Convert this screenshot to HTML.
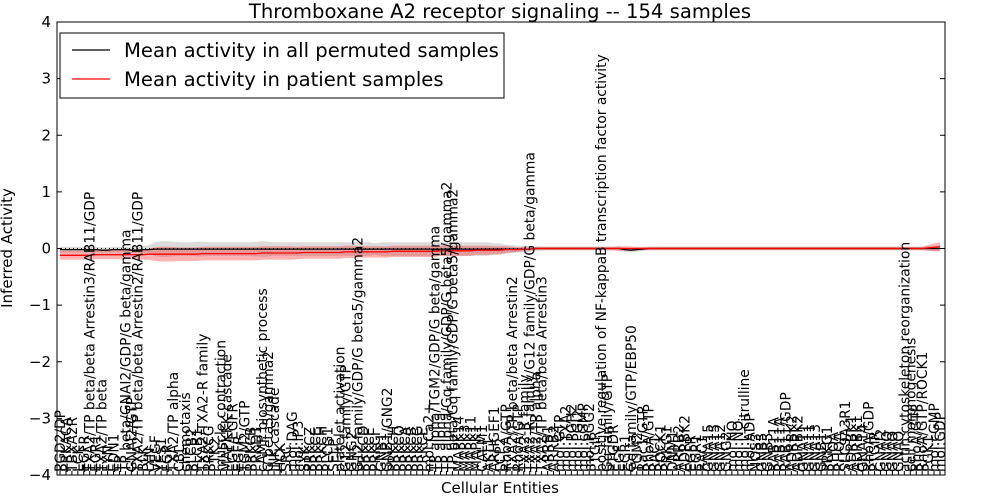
<!DOCTYPE html>
<html><head><meta charset="utf-8"><style>
html,body{margin:0;padding:0;background:#fff;}
svg{display:block;font-family:"DejaVu Sans","Liberation Sans",sans-serif;}
</style></head><body>
<svg id="chart" width="1000" height="500" viewBox="0 0 1000 500" xmlns="http://www.w3.org/2000/svg">
<rect x="0" y="0" width="1000" height="500" fill="#fff"/>
<text x="500" y="18" text-anchor="middle" font-size="19.6">Thromboxane A2 receptor signaling -- 154 samples</text>
<text transform="translate(12,248) rotate(-90)" text-anchor="middle" font-size="15">Inferred Activity</text>
<text x="500" y="493" text-anchor="middle" font-size="15">Cellular Entities</text>
<g id="plot"></g>
<rect x="57" y="22" width="888" height="453" fill="none" stroke="#000" stroke-width="1"/>
<g>
<rect x="60" y="33" width="444" height="65" fill="#fff" stroke="#000" stroke-width="1"/>
<line x1="72" y1="50" x2="110" y2="50" stroke="#000" stroke-width="1.2"/>
<text x="124" y="57" font-size="19.6">Mean activity in all permuted samples</text>
<line x1="72" y1="79" x2="110" y2="79" stroke="#f00" stroke-width="1.2"/>
<text x="124" y="86" font-size="19.6">Mean activity in patient samples</text>
</g>
</svg>
<script>
const labels=["PGD2/DP","PRKACA","TBXA2R","LCK","EGFR","TXA2/TP beta/beta Arrestin3/RAB11/GDP","EGR1","TXA2/TP beta","FYN","EDN1",
"TP","TP beta/GNAI2/GDP/G beta/gamma","GNAI2/GTP","TXA2/TP beta/beta Arrestin2/RAB11/GDP","BLK","LYN","VEGF","YES1","FGR","TXA2/TP alpha",
"CBL","chemotaxis","PLCB2","PLCB1","TXA2/TXA2-R family","PRKCG","PTK2","muscle contraction","MAPKKK cascade","EGF/EGFR",
"EGFR","TGM2/GTP","PRKCB","PRKD1","cAMP biosynthetic process","G beta5/gamma2","JNK cascade","HCK","SRC","mol:DAG",
"mol:IP3","SYK","PRKCZ","PRKCE","PRKCH","PLCG1","SELP","platelet activation","G12 family/GTP","GNG2",
"G12 family/GDP/G beta5/gamma2","PRKCD","PRKCE","PRKCI","GNB1","GNB1/GNG2","PRKCH","PRKCQ","PRKCA","PRKCB",
"PRKCG","PRKCE","mol:Ca2+","TP alpha/TGM2/GDP/G beta/gamma","TP alpha","TP alpha/Gq family/GDP/G beta5/gamma2","TP beta/Gq family/GDP/G beta5/gamma2","MAPK14","MAPK3","MAPK11",
"MAPK1","CALM1","AKT1","ARHGEF1","LCP2","RhoA/GTP","TXA2/TP beta/beta Arrestin2","RhoA/GTP","TXA2-R family","TXA2-R family/G12 family/GDP/G beta/gamma",
"TXA2/TP alpha","TXA2/TP beta/beta Arrestin3","ARRB1","ARRB2","mol:GTP","mol:TXA2","mol:PGH2","mol:PGI2","mol:cGMP","mol:PGG2",
"PTGIR","positive regulation of NF-kappaB transcription factor activity","Gq family/GTP","PTGDR","EGF","EGR1","Gq family/GTP/EBP50","TGM2","Rac1/GTP","RhoA/GTP",
"RAC1","ROCK1","PRKG1","DNM1","ARRB2","ADRBK2","EGFR","EGR1","RAC1","GNA15",
"GNA15","GNA12","GNG2","mol:NO","mol:NO","mol:L-citrulline","mol:ADP","NOS3","GNB5","GNB5",
"RAB11A","RAB11A","RAB11/GDP","ADRBK2","ADRBK2","GNA11","GNA11","GNA13","GNB1","PRKG1",
"RHOA","RHOA","SLC9A3R1","ADRBK1","ADRBK1","GNA14","RhoA/GDP","PTGIR","GNAI2","GNAQ",
"GNAO","GNAQ","actin cytoskeleton reorganization","cell morphogenesis","RhoA/GTP","RhoA/GTP/ROCK1","PGK1","mol:cGMP","mol:GDP"];
const permMean=[-0.02,-0.02,-0.02,-0.02,-0.02,-0.02,-0.02,-0.03,-0.03,-0.02,
-0.02,-0.02,-0.03,-0.03,-0.02,-0.02,-0.01,-0.01,-0.01,-0.01,
-0.01,-0.01,-0.01,-0.01,-0.01,-0.01,-0.01,-0.01,-0.01,-0.01,
-0.01,-0.01,-0.01,-0.01,-0.01,-0.01,-0.01,-0.01,-0.01,-0.01,
-0.01,-0.01,-0.01,-0.01,-0.01,-0.01,-0.01,-0.01,-0.01,-0.01,
-0.01,-0.01,-0.01,-0.01,-0.01,-0.01,-0.01,-0.01,-0.01,-0.01,
-0.01,-0.01,-0.01,-0.01,-0.01,-0.01,-0.01,-0.01,-0.01,-0.01,
-0.01,-0.01,-0.01,-0.01,-0.01,-0.01,-0.01,-0.01,-0.01,-0.01,
0,0,0,0,0,0,0,0,0,0,
0,0,0,0,0,-0.02,-0.03,-0.02,-0.01,0,
0,0,0,0,0,0,0,0,0,0,
0,0,0,0,0,0,0,0,0,0,
0,0,0,0,0,0,0,0,0,0,
0,0,0,0,0,0,0,0,0,0,
0,0,0,0,0,0,0,0,0];
const permSd=[0.05,0.05,0.05,0.05,0.05,0.05,0.05,0.05,0.05,0.05,
0.05,0.05,0.05,0.05,0.06,0.08,0.12,0.14,0.14,0.13,
0.12,0.12,0.12,0.13,0.13,0.12,0.12,0.12,0.12,0.12,
0.12,0.12,0.12,0.13,0.14,0.13,0.12,0.12,0.12,0.12,
0.12,0.12,0.12,0.12,0.12,0.12,0.12,0.12,0.12,0.12,
0.12,0.12,0.12,0.10,0.12,0.12,0.12,0.12,0.12,0.12,
0.12,0.12,0.12,0.12,0.12,0.12,0.12,0.12,0.12,0.12,
0.12,0.12,0.12,0.10,0.10,0.08,0.07,0.06,0.06,0.05,
0.04,0.03,0.03,0.03,0.03,0.03,0.03,0.03,0.03,0.03,
0.03,0.03,0.03,0.03,0.04,0.04,0.04,0.04,0.03,0.03,
0.03,0.03,0.03,0.03,0.03,0.03,0.03,0.03,0.03,0.03,
0.03,0.03,0.03,0.03,0.03,0.03,0.03,0.03,0.03,0.03,
0.03,0.03,0.03,0.03,0.03,0.03,0.03,0.03,0.03,0.03,
0.03,0.03,0.03,0.03,0.03,0.03,0.03,0.03,0.03,0.03,
0.03,0.03,0.03,0.03,0.03,0.03,0.04,0.05,0.05];
const patMean=[-0.12,-0.12,-0.12,-0.12,-0.12,-0.12,-0.11,-0.11,-0.11,-0.11,
-0.11,-0.11,-0.11,-0.11,-0.11,-0.10,-0.10,-0.10,-0.10,-0.10,
-0.10,-0.10,-0.10,-0.10,-0.09,-0.09,-0.09,-0.09,-0.09,-0.09,
-0.09,-0.09,-0.09,-0.09,-0.08,-0.08,-0.08,-0.08,-0.08,-0.08,
-0.08,-0.07,-0.07,-0.07,-0.07,-0.07,-0.07,-0.07,-0.06,-0.06,
-0.06,-0.06,-0.06,-0.06,-0.06,-0.06,-0.05,-0.05,-0.05,-0.05,
-0.05,-0.05,-0.05,-0.05,-0.04,-0.04,-0.04,-0.04,-0.04,-0.04,
-0.03,-0.03,-0.03,-0.03,-0.03,-0.02,-0.02,-0.02,-0.01,-0.01,
0,0,0,0,0,0,0,0,0,0,
0,0,0,0,0,0,0,0,0,0,
0,0,0,0,0,0,0,0,0,0,
0,0,0,0,0,0,0,0,0,0,
0,0,0,0,0,0,0,0,0,0,
0,0,0,0,0,0,0,0,0,0,
0,0,0,0,0,0,0.01,0.02,0.03];
const patSd=[0.08,0.08,0.08,0.08,0.08,0.08,0.08,0.08,0.08,0.08,
0.08,0.08,0.08,0.08,0.09,0.10,0.12,0.13,0.13,0.13,
0.12,0.12,0.12,0.12,0.12,0.12,0.12,0.12,0.12,0.12,
0.12,0.12,0.12,0.12,0.12,0.12,0.12,0.12,0.12,0.12,
0.11,0.11,0.11,0.11,0.11,0.11,0.11,0.11,0.11,0.11,
0.10,0.10,0.10,0.10,0.10,0.10,0.10,0.10,0.10,0.10,
0.10,0.10,0.10,0.10,0.09,0.09,0.09,0.09,0.09,0.09,
0.08,0.08,0.08,0.07,0.07,0.06,0.05,0.04,0.04,0.03,
0.03,0.03,0.03,0.03,0.03,0.03,0.03,0.03,0.03,0.03,
0.03,0.03,0.03,0.03,0.04,0.04,0.04,0.03,0.03,0.03,
0.03,0.03,0.03,0.03,0.03,0.03,0.03,0.03,0.03,0.03,
0.03,0.03,0.03,0.03,0.03,0.03,0.03,0.03,0.03,0.03,
0.03,0.03,0.03,0.03,0.03,0.03,0.03,0.03,0.03,0.03,
0.03,0.03,0.03,0.03,0.03,0.03,0.03,0.03,0.03,0.03,
0.03,0.03,0.03,0.03,0.03,0.03,0.05,0.07,0.08];
const yTicks=[-4,-3,-2,-1,0,1,2,3,4];

const NS="http://www.w3.org/2000/svg";
const L=57,R=945,T=22,B=475;
const X0=60,X1=940;
function xs(i){return X0+(X1-X0)*i/(labels.length-1);}
function ys(v){return B-(v+4)/8*(B-T);}
const plot=document.getElementById('plot');
function mk(tag,attrs){const e=document.createElementNS(NS,tag);for(const k in attrs)e.setAttribute(k,attrs[k]);return e;}
function band(mean,sd,fill,op,name){
  let d="";
  for(let i=0;i<mean.length;i++)d+=(i?"L":"M")+xs(i).toFixed(1)+","+ys(mean[i]+sd[i]).toFixed(1);
  for(let i=mean.length-1;i>=0;i--)d+="L"+xs(i).toFixed(1)+","+ys(mean[i]-sd[i]).toFixed(1);
  const p=mk('path',{d:d+"Z",fill:fill,'fill-opacity':op,stroke:'none'});
  
  
  plot.appendChild(p);
}
function line(mean,color,name){
  const pts=mean.map((v,i)=>xs(i).toFixed(1)+","+ys(v).toFixed(1)).join(" ");
  const p=mk('polyline',{points:pts,fill:'none',stroke:color,'stroke-width':1.3});
  
  
  plot.appendChild(p);
}
band(permMean,permSd,'#999',0.35,'permuted-band');
band(patMean,patSd,'#f00',0.3,'patient-band');
const zl=mk('line',{x1:L,x2:R,y1:ys(0),y2:ys(0),stroke:'#000','stroke-dasharray':'1,3','stroke-width':1});


plot.appendChild(zl);
line(permMean,'#000','permuted-mean-line');
line(patMean,'#f00','patient-mean-line');
yTicks.forEach(v=>{
  const y=ys(v);
  const t=mk('line',{x1:L,x2:L+5,y1:y,y2:y,stroke:'#000'});
  
  
  plot.appendChild(t);
  const t2=mk('line',{x1:R-5,x2:R,y1:y,y2:y,stroke:'#000'});
  
  
  plot.appendChild(t2);
  const lb=mk('text',{x:L-6,y:y+5,'text-anchor':'end','font-size':15});
  lb.textContent=(v<0?"\u2212"+(-v):String(v));
  
  
  plot.appendChild(lb);
});
labels.forEach((s,i)=>{
  const x=xs(i);
  const tk=mk('line',{x1:x,x2:x,y1:B,y2:B-4,stroke:'#000'});
  
  
  plot.appendChild(tk);
  const t=mk('text',{transform:'translate('+(x+5).toFixed(1)+','+(B-3)+') rotate(-90)','font-size':13.8});
  t.textContent=s;
  
  
  plot.appendChild(t);
});
</script>
</body></html>
